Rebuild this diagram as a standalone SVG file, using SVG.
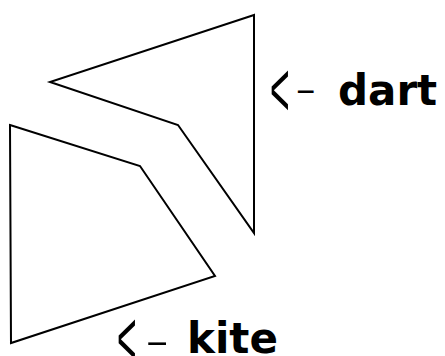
<svg xmlns="http://www.w3.org/2000/svg" width="445" height="356" viewBox="0 0 445 356">
<style>
.shape{fill:none;stroke:#000;stroke-width:2;stroke-linejoin:miter}
.lbl{font-family:"DejaVu Sans",sans-serif;font-weight:bold;font-size:42px;fill:#000}
.arr{font-family:"Liberation Sans",sans-serif;font-size:28px;fill:#000}
</style>
<rect width="445" height="356" fill="#fff"/>
<g id="dart">
<polygon class="shape" points="254,15 50,82 178,125 254,233"/>
<text class="arr" transform="translate(270,115.6) scale(1.2,2.8)">&lt;</text>
<text class="arr" transform="translate(295,101) scale(2.3,1.2)">-</text>
<text class="lbl" x="338" y="105">dart</text>
</g>
<g id="kite">
<polygon class="shape" points="10,125 140,166 215,276 11,343"/>
<text class="arr" transform="translate(117,365) scale(1.2,2.8)">&lt;</text>
<text class="arr" transform="translate(145,353) scale(2.6,1.2)">-</text>
<text class="lbl" x="187" y="353">kite</text>
</g>
</svg>
